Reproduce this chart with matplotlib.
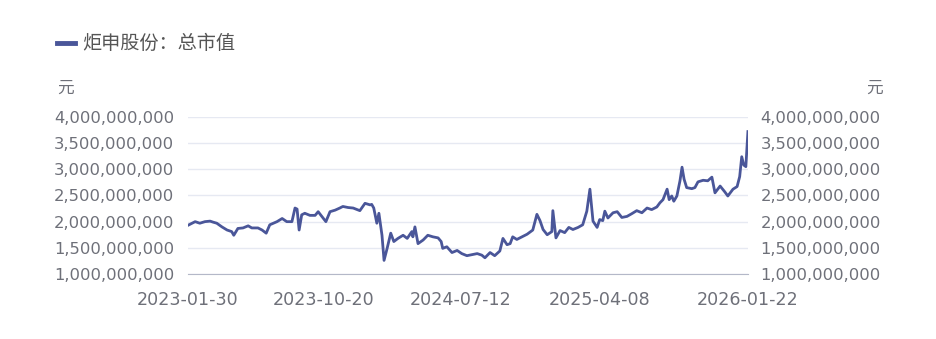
import numpy as np
import matplotlib.pyplot as plt
from matplotlib.ticker import FuncFormatter
import datetime as dt

plt.rcParams['font.family'] = ['DejaVu Sans', 'Noto Sans CJK SC']

start = dt.date(2023, 1, 30)
# days since 2023-01-30
days = [0, 2, 14, 23, 33, 43, 49, 56, 66, 76, 85, 89, 97, 107, 117, 124, 136, 144, 152, 159,
        173, 183, 192, 202, 208, 212, 216, 221, 227, 237, 247, 253, 260, 268, 276, 286, 295, 301,
        311, 321, 334, 344, 354, 357, 361, 367, 371, 377, 381, 387, 394, 400, 408, 418, 426, 435,
        437, 441, 447, 457, 466, 476, 486, 492, 495, 503, 513, 523, 532, 542, 552, 562, 571, 577,
        587, 596, 606, 612, 620, 626, 631, 639, 649, 659, 663, 670, 678, 684, 690, 698, 707, 709,
        715, 723, 732, 740, 748, 758, 767, 775, 781, 787, 795, 800, 806, 810, 816, 826, 834, 843,
        853, 862, 872, 882, 892, 901, 911, 917, 923, 931, 935, 940, 944, 950, 956, 960, 964, 969,
        979, 985, 991, 1001, 1010, 1018, 1024, 1034, 1043, 1049, 1059, 1067, 1072, 1076, 1080,
        1084, 1088]
# total market value, billions of yuan
mv = [1.93, 1.94, 2.00, 1.97, 2.00, 2.01, 1.99, 1.97, 1.90, 1.84, 1.81, 1.74, 1.87, 1.88, 1.92,
      1.88, 1.88, 1.84, 1.78, 1.94, 2.00, 2.06, 2.00, 2.00, 2.26, 2.24, 1.84, 2.13, 2.16, 2.12,
      2.12, 2.19, 2.10, 2.00, 2.19, 2.22, 2.26, 2.29, 2.27, 2.26, 2.21, 2.35, 2.32, 2.33, 2.26,
      1.97, 2.16, 1.74, 1.26, 1.49, 1.78, 1.62, 1.68, 1.74, 1.68, 1.81, 1.71, 1.90, 1.58, 1.65,
      1.74, 1.71, 1.69, 1.62, 1.49, 1.52, 1.41, 1.45, 1.39, 1.35, 1.37, 1.39, 1.36, 1.31, 1.41,
      1.35, 1.44, 1.68, 1.56, 1.58, 1.71, 1.66, 1.71, 1.76, 1.79, 1.84, 2.14, 2.02, 1.85, 1.75,
      1.81, 2.21, 1.69, 1.83, 1.79, 1.89, 1.85, 1.89, 1.94, 2.20, 2.62, 2.01, 1.89, 2.04, 2.02,
      2.20, 2.07, 2.17, 2.19, 2.08, 2.10, 2.15, 2.21, 2.17, 2.26, 2.23, 2.28, 2.36, 2.42, 2.62,
      2.42, 2.49, 2.39, 2.49, 2.78, 3.04, 2.81, 2.65, 2.63, 2.65, 2.76, 2.79, 2.78, 2.85, 2.55,
      2.68, 2.57, 2.49, 2.62, 2.67, 2.86, 3.24, 3.08, 3.05, 3.72]
xticks = ['2023-01-30', '2023-10-20', '2024-07-12', '2025-04-08', '2026-01-22']
yticks = [1e9, 1.5e9, 2e9, 2.5e9, 3e9, 3.5e9, 4e9]

dates = [start + dt.timedelta(days=d) for d in days]
values = np.array(mv) * 1e9

fig = plt.figure(figsize=(9.37, 3.39), dpi=100)
ax = fig.add_axes([0.2006, 0.1917, 0.5976, 0.4634])
line_color = '#4a5699'
text_color = '#6e7079'
fmt = FuncFormatter(lambda v, p: f'{int(v):,}')

ax.plot(dates, values, color=line_color, lw=2)
ax.set_ylim(1e9, 4e9)
ax.set_xlim(start, dt.date(2026, 1, 22))
ax.set_yticks(yticks)
ax.yaxis.set_major_formatter(fmt)
ax.set_xticks([dt.datetime.strptime(t, '%Y-%m-%d').date() for t in xticks])
ax.set_xticklabels(xticks)
ax.grid(axis='y', color='#e6e9f2', lw=1)
ax.set_axisbelow(True)
for s in ['top', 'left', 'right']:
    ax.spines[s].set_visible(False)
ax.spines['bottom'].set_color('#b4b8c8')
ax.tick_params(axis='y', length=0, labelsize=11.8, colors=text_color, pad=10)
ax.tick_params(axis='x', length=0, labelsize=12.6, colors=text_color, pad=12)

ax2 = ax.twinx()
ax2.set_ylim(ax.get_ylim())
ax2.set_yticks(yticks)
ax2.yaxis.set_major_formatter(fmt)
for s in ['top', 'left', 'right', 'bottom']:
    ax2.spines[s].set_visible(False)
ax2.tick_params(axis='y', length=0, labelsize=11.8, colors=text_color, pad=9)

fig.text(57 / 937, 1 - 88 / 339, '元', fontsize=12, color=text_color, va='center')
fig.text(866 / 937, 1 - 88 / 339, '元', fontsize=12, color=text_color, va='center')

# legend
fig.add_artist(plt.Line2D([57 / 937, 75 / 937], [1 - 43 / 339, 1 - 43 / 339], color=line_color, lw=3.5))
fig.text(82 / 937, 1 - 43 / 339, '炬申股份：总市值', fontsize=13.8, color='#555555', va='center',
         family=['Noto Sans CJK SC', 'DejaVu Sans'])

fig.savefig('out.png', dpi=100)
